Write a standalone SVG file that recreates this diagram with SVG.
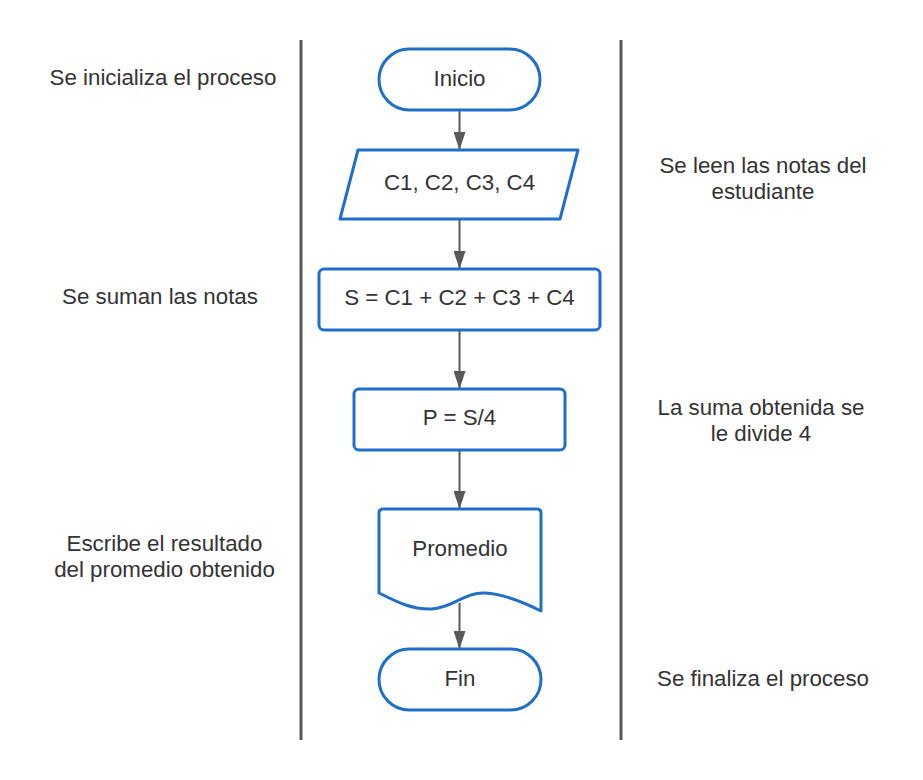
<svg xmlns="http://www.w3.org/2000/svg" width="923" height="780" viewBox="0 0 923 780">
<defs>
<style>
.node{fill:#ffffff;stroke:#1f6fca;stroke-width:3;stroke-linejoin:round}
.t{font-family:"Liberation Sans",Arial,sans-serif;font-size:22.3px;fill:#333333;text-anchor:middle}
.lane{stroke:#595959;stroke-width:3}
.edge{stroke:#595959;stroke-width:2;fill:none;marker-end:url(#arr)}
</style>
<marker id="arr" viewBox="0 0 18 12" refX="17" refY="6" markerWidth="18" markerHeight="12" markerUnits="userSpaceOnUse" orient="auto">
<path d="M0,0 L18,6 L0,12 Z" fill="#595959"/>
</marker>
</defs>
<rect width="923" height="780" fill="#ffffff"/>
<g id="lanes">
<line class="lane" x1="301" y1="40" x2="301" y2="740"/>
<line class="lane" x1="621" y1="40" x2="621" y2="740"/>
</g>
<g id="connectors">
<line class="edge" x1="459.5" y1="111" x2="459.5" y2="149"/>
<line class="edge" x1="459.5" y1="220" x2="459.5" y2="268"/>
<line class="edge" x1="459.5" y1="331" x2="459.5" y2="388"/>
<line class="edge" x1="459.5" y1="451" x2="459.5" y2="508"/>
<line class="edge" x1="459.5" y1="603" x2="459.5" y2="648"/>
</g>
<g id="inicio">
<rect class="node" x="379" y="49" width="161" height="61" rx="30.5"/>
<text class="t" x="459.5" y="86">Inicio</text>
</g>
<g id="entrada">
<polygon class="node" points="358,150 578,150 560,219 340,219"/>
<text class="t" x="459.5" y="190">C1, C2, C3, C4</text>
</g>
<g id="suma">
<rect class="node" x="319" y="269" width="281" height="61" rx="5"/>
<text class="t" x="459.5" y="305">S = C1 + C2 + C3 + C4</text>
</g>
<g id="promedio">
<rect class="node" x="354" y="389" width="211" height="61" rx="5"/>
<text class="t" x="459.5" y="425">P = S/4</text>
</g>
<g id="documento">
<path class="node" d="M379,593 L379,513 Q379,509 383,509 L537,509 Q541,509 541,513 L541,611 C525,603 505,594 485,593 C465,592 452,608 432,609 C412,610 395,601 379,593 Z"/>
<text class="t" x="460" y="556">Promedio</text>
</g>
<g id="fin">
<rect class="node" x="379" y="649" width="162" height="61" rx="30.5"/>
<text class="t" x="460" y="686">Fin</text>
</g>
<g id="labels">
<text class="t" x="163" y="85">Se inicializa el proceso</text>
<text class="t" x="763" y="173">Se leen las notas del</text>
<text class="t" x="763" y="199">estudiante</text>
<text class="t" x="160" y="304">Se suman las notas</text>
<text class="t" x="761" y="415">La suma obtenida se</text>
<text class="t" x="761" y="441">le divide 4</text>
<text class="t" x="164.5" y="551">Escribe el resultado</text>
<text class="t" x="164.5" y="577">del promedio obtenido</text>
<text class="t" x="763" y="686">Se finaliza el proceso</text>
</g>
</svg>
